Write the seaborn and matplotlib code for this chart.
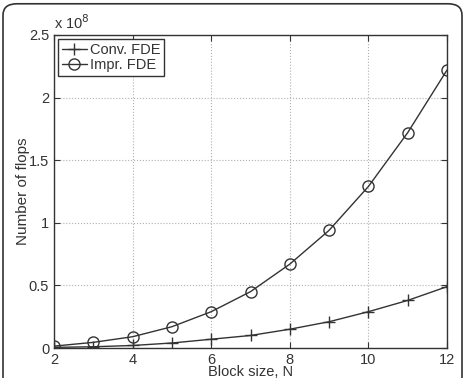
import numpy as np
import pandas as pd
import matplotlib
matplotlib.use('Agg')
import matplotlib.pyplot as plt
import seaborn as sns
from matplotlib.patches import FancyBboxPatch
from matplotlib.ticker import FuncFormatter

sns.set_style('ticks')
plt.rcParams['font.family'] = ['Liberation Sans', 'DejaVu Sans']

block_size = [2, 3, 4, 5, 6, 7, 8, 9, 10, 11, 12]
conv_fde = [0.005e8, 0.01e8, 0.02e8, 0.04e8, 0.07e8, 0.10e8, 0.15e8, 0.21e8, 0.29e8, 0.38e8, 0.49e8]
impr_fde = [0.015e8, 0.045e8, 0.09e8, 0.17e8, 0.29e8, 0.45e8, 0.67e8, 0.94e8, 1.29e8, 1.72e8, 2.22e8]

txt = '#333333'
fig = plt.figure(figsize=(4.67, 3.78), dpi=100)
ax = fig.add_axes([54 / 467, 1 - 348 / 378, (447 - 54) / 467, (348 - 35) / 378])

# two series, drawn one by one (seaborn won't mix '+' and 'o' in one style map)
sns.lineplot(x=block_size, y=conv_fde, marker='+', color=txt, linewidth=1.0,
             markersize=8, markeredgewidth=1.0, markeredgecolor=txt,
             label='Conv. FDE', ax=ax)
sns.lineplot(x=block_size, y=impr_fde, marker='o', color=txt, linewidth=1.0,
             markersize=8, markeredgewidth=1.0, markerfacecolor='none',
             markeredgecolor=txt, label='Impr. FDE', ax=ax)

ax.set_xlim(2, 12)
ax.set_ylim(0, 2.5e8)
ax.set_xticks([2, 4, 6, 8, 10, 12])
ax.set_yticks([0, 0.5e8, 1e8, 1.5e8, 2e8, 2.5e8])
ax.yaxis.set_major_formatter(FuncFormatter(lambda v, p: f'{v / 1e8:g}'))
ax.grid(True, linestyle=':', color='#b0b0b0', linewidth=0.8)
ax.tick_params(direction='in', top=True, right=True, labelsize=10.5, colors=txt, length=4)
for s in ax.spines.values():
    s.set_visible(True)
    s.set_color(txt)
    s.set_linewidth(1.0)

ax.set_xlabel('Block size, N', fontsize=10.5, color=txt, labelpad=-1)
ax.set_ylabel('Number of flops', fontsize=11, color=txt, labelpad=-1)
ax.text(0.0, 1.01, r'x 10$^{8}$', transform=ax.transAxes, fontsize=10.5, color=txt, ha='left', va='bottom')

leg = ax.legend(loc='upper left', fontsize=10.5, frameon=True, fancybox=False, borderaxespad=0.3,
                handlelength=1.7, handletextpad=0.2, borderpad=0.25, labelspacing=0.1)
leg.get_frame().set_edgecolor(txt)
leg.get_frame().set_linewidth(1.0)
leg.get_frame().set_alpha(1)
for t in leg.get_texts():
    t.set_color(txt)

frame = FancyBboxPatch((3 / 467, -0.05), 459 / 467, 1.04, boxstyle='round,pad=0,rounding_size=0.03',
                       transform=fig.transFigure, fill=False, edgecolor=txt, linewidth=1.2)
fig.patches.append(frame)

fig.savefig('out.png', dpi=100)
